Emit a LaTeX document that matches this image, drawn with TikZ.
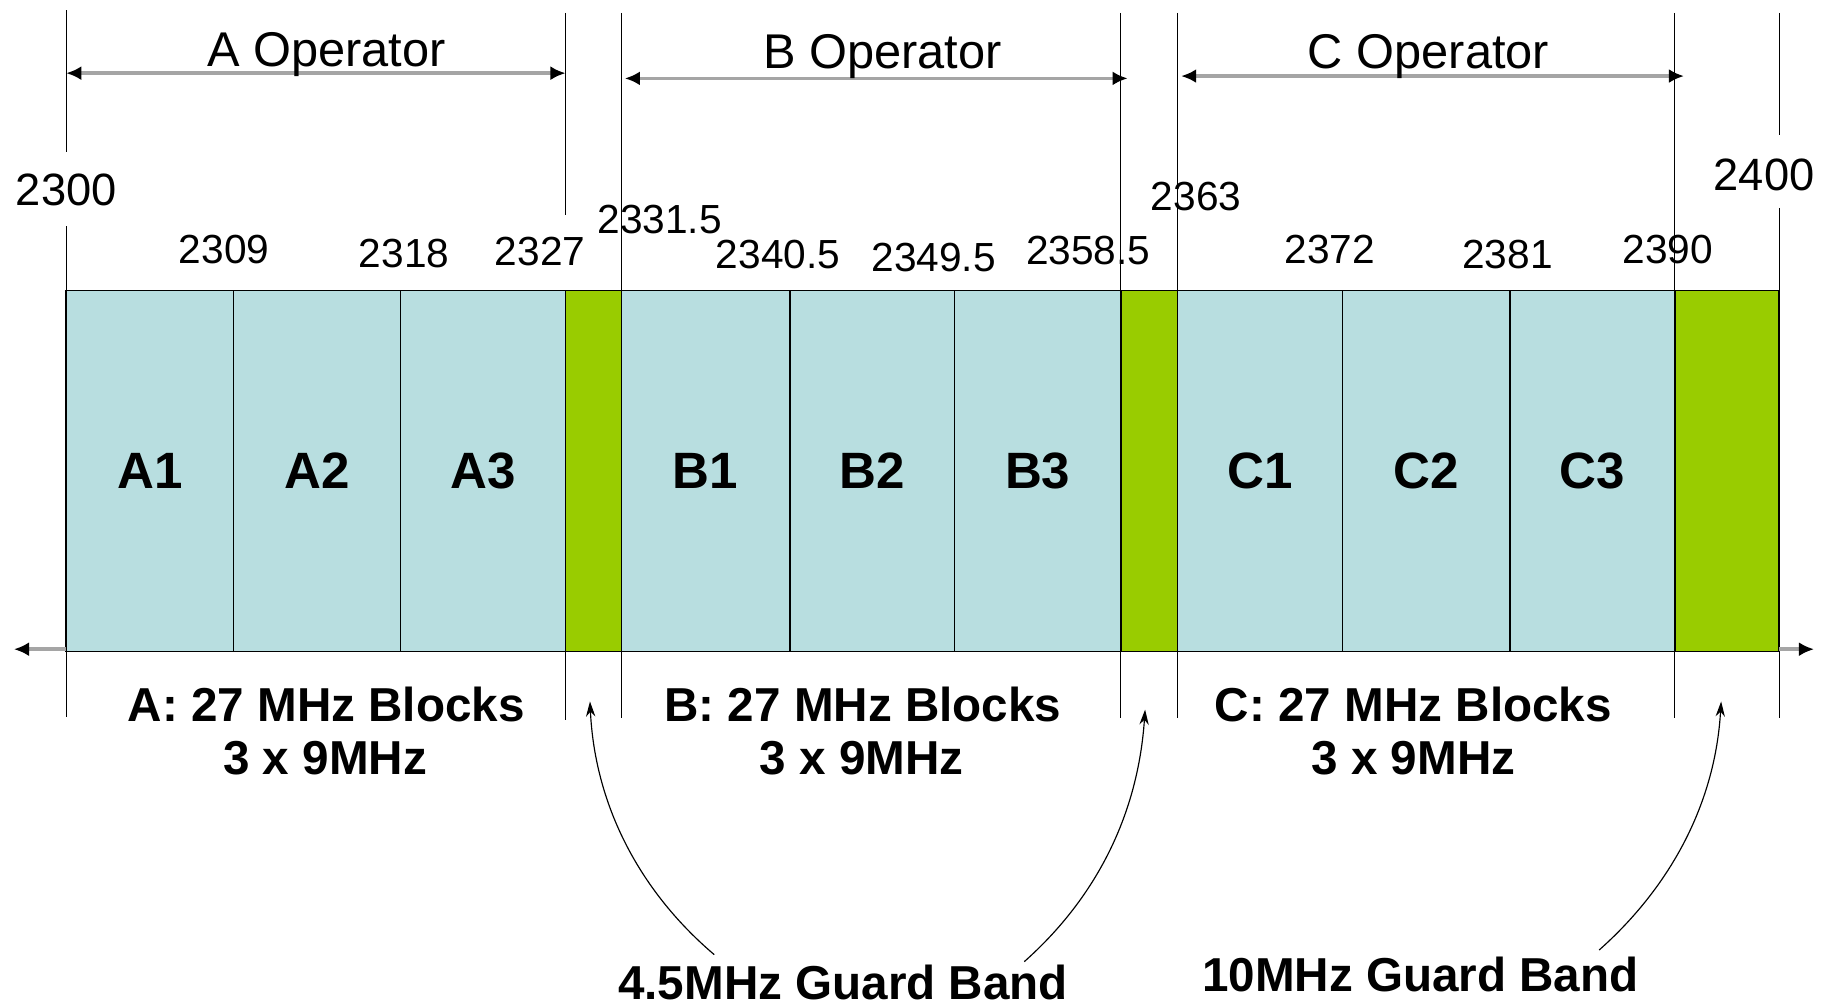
\documentclass[tikz,border=0pt]{standalone}
\usepackage{fontspec}
\setmainfont{Liberation Sans}
\usetikzlibrary{arrows.meta}
\definecolor{cellblue}{RGB}{184,222,224}
\definecolor{guardgreen}{RGB}{153,204,0}
\definecolor{arrgray}{RGB}{165,165,165}
\begin{document}
\begin{tikzpicture}[x=1pt,y=-1pt,
  cell/.style={draw=black,line width=1.4pt,fill=cellblue,minimum height=311pt,
    inner sep=0pt,outer sep=0pt,font=\fontsize{44}{50}\selectfont\bfseries},
  guard/.style={draw=black,line width=1.4pt,fill=guardgreen,minimum height=311pt,
    inner sep=0pt,outer sep=0pt},
  num/.style={font=\fontsize{35}{40}\selectfont,anchor=base,inner sep=0pt},
  bignum/.style={font=\fontsize{39}{44}\selectfont,anchor=base,inner sep=0pt},
  oplabel/.style={font=\fontsize{42}{48}\selectfont,anchor=base,inner sep=0pt},
  blklabel/.style={font=\fontsize{41}{47}\selectfont\bfseries,anchor=base,inner sep=0pt},
  tick/.style={draw=black,line width=1.2pt},
  oparrow/.style={draw=arrgray,line width=3.2pt,
    >={Latex[color=black,length=13pt,width=12pt]},<->},
  axarrow/.style={draw=arrgray,line width=3.2pt,
    >={Latex[color=black,length=13pt,width=12pt]},->},
  gbarrow/.style={draw=black,line width=1pt,
    >={Stealth[length=13pt,width=8pt]},->}
]
\useasboundingbox[fill=white] (0,0) rectangle (1568,867);

% spectrum blocks
\node[cell,minimum width=144pt] (A1) at (129,405.5) {A1};
\node[cell,minimum width=144pt] (A2) at (273,405.5) {A2};
\node[cell,minimum width=142pt] (A3) at (416,405.5) {A3};
\node[guard,minimum width=48pt] (G1) at (511,405.5) {};
\node[cell,minimum width=145pt] (B1) at (607.5,405.5) {B1};
\node[cell,minimum width=142pt] (B2) at (751,405.5) {B2};
\node[cell,minimum width=143pt] (B3) at (893.5,405.5) {B3};
\node[guard,minimum width=49pt] (G2) at (989.5,405.5) {};
\node[cell,minimum width=142pt] (C1) at (1085,405.5) {C1};
\node[cell,minimum width=144pt] (C2) at (1228,405.5) {C2};
\node[cell,minimum width=142pt] (C3) at (1371,405.5) {C3};
\node[guard,minimum width=90pt] (G3) at (1487,405.5) {};

% frequency axis
\coordinate (axL) at (12,559);
\coordinate (axR) at (1562,559);
\draw[axarrow] ([yshift=2pt]A1.south west) -- (axL);
\draw[axarrow] ([yshift=2pt]G3.south east) -- (axR);

% vertical boundary lines (top)
\draw[tick] (57,9) -- (57,131);
\draw[tick] (57,195) -- (A1.north west);
\draw[tick] (487,11) -- (487,185);
\draw[tick] (535,11) -- (B1.north west);
\draw[tick] (965,11) -- (G2.north west);
\draw[tick] (1014,11) -- (C1.north west);
\draw[tick] (1442,11) -- (G3.north west);
\draw[tick] (1532,11) -- (1532,116);
\draw[tick] (1532,179) -- (G3.north east);

% vertical boundary lines (bottom)
\draw[tick] (A1.south west) -- (57,617);
\draw[tick] (G1.south west) -- (487,620);
\draw[tick] (B1.south west) -- (535,618);
\draw[tick] (G2.south west) -- (965,618);
\draw[tick] (C1.south west) -- (1014,618);
\draw[tick] (G3.south west) -- (1442,618);
\draw[tick] (G3.south east) -- (1532,618);

% operator ranges
\coordinate (opAl) at (57,63);   \coordinate (opAr) at (487,63);
\coordinate (opBl) at (538,67.5); \coordinate (opBr) at (971,67.5);
\coordinate (opCl) at (1017,65.5); \coordinate (opCr) at (1450,65.5);
\draw[oparrow] (opAl) -- (opAr);
\draw[oparrow] (opBl) -- (opBr);
\draw[oparrow] (opCl) -- (opCr);
\node[oplabel] (opA) at (281,57) {A Operator};
\node[oplabel] (opB) at (760,59) {B Operator};
\node[oplabel] (opC) at (1230,59) {C Operator};

% frequency labels
\node[bignum] (f2300) at (57,177) {2300};
\node[num] (f2309) at (193,227) {2309};
\node[num] (f2318) at (348,230) {2318};
\node[num] (f2327) at (465,229) {2327};
\node[num] (f23315) at (568,201) {2331.5};
\node[num] (f23405) at (670,231) {2340.5};
\node[num] (f23495) at (804,234) {2349.5};
\node[num] (f23585) at (937,228) {2358.5};
\node[num] (f2363) at (1030,181) {2363};
\node[num] (f2372) at (1145,227) {2372};
\node[num] (f2381) at (1298,231) {2381};
\node[num] (f2390) at (1436,227) {2390};
\node[bignum] (f2400) at (1519,164) {2400};

% block descriptions
\node[blklabel] (dA1) at (281,621) {A: 27 MHz Blocks};
\node[blklabel] (dA2) at (280,667) {3 x 9MHz};
\node[blklabel] (dB1) at (743,621) {B: 27 MHz Blocks};
\node[blklabel] (dB2) at (742,667) {3 x 9MHz};
\node[blklabel] (dC1) at (1217,621) {C: 27 MHz Blocks};
\node[blklabel] (dC2) at (1217,667) {3 x 9MHz};

% guard band callouts
\node[blklabel] (gb45) at (726,861) {4.5MHz Guard Band};
\node[blklabel] (gb10) at (1223,854) {10MHz Guard Band};
\coordinate (s1) at (615,822); \coordinate (t1) at (508,604);
\coordinate (s2) at (882,828); \coordinate (t2) at (986,611);
\coordinate (s3) at (1377,818); \coordinate (t3) at (1482,604);
\draw[gbarrow] (s1) .. controls (548,765) and (512,690) .. (t1);
\draw[gbarrow] (s2) .. controls (945,772) and (980,700) .. (t2);
\draw[gbarrow] (s3) .. controls (1440,762) and (1477,690) .. (t3);
\end{tikzpicture}
\end{document}
